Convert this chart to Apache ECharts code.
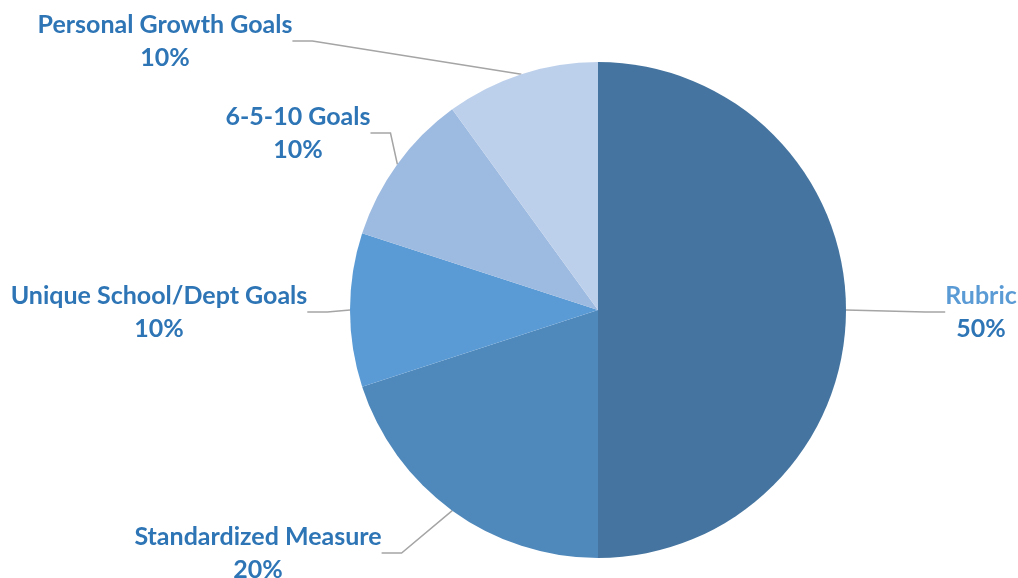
<!DOCTYPE html>
<html><head><meta charset="utf-8">
<script src="https://cdn.jsdelivr.net/npm/echarts@6/dist/echarts.min.js"></script>
<style>html,body{margin:0;padding:0;background:#fff}#c{width:1018px;height:578px}</style>
</head><body><div id="c"></div>
<script>
const categories = ['Rubric', 'Standardized Measure', 'Unique School/Dept Goals', '6-5-10 Goals', 'Personal Growth Goals'];
const values = [50, 20, 10, 10, 10];
const colors = ['#44749F', '#4F88BB', '#5B9BD5', '#9DBAE0', '#BDD0EB'];
const labelPos = [[981, 312], [258, 553], [159, 312], [298, 133], [165, 41]];

const chart = echarts.init(document.getElementById('c'));
chart.setOption({
  animation: false,
  series: [{
    type: 'pie',
    center: [598, 310],
    radius: 248,
    startAngle: 90,
    clockwise: true,
    data: categories.map((n, i) => ({
      name: n, value: values[i],
      itemStyle: { color: colors[i] },
      label: { rich: { n: { color: i === 0 ? '#5B9BD5' : '#2E75B6' } } }
    })),
    itemStyle: { borderColor: '#fff', borderWidth: 0 },
    label: {
      show: true,
      overflow: 'none',
      edgeDistance: 0,
      formatter: p => '{n|' + p.name + '}\n{v|' + p.percent + '%}',
      rich: {
        n: { fontFamily: 'Lato', fontWeight: 'bold', fontSize: 25, color: '#2E75B6', lineHeight: 33, align: 'center' },
        v: { fontFamily: 'Lato', fontWeight: 'bold', fontSize: 25, color: '#2E75B6', lineHeight: 33, align: 'center' }
      }
    },
    labelLine: { show: true, lineStyle: { color: '#A5A5A5', width: 1.5 }, length: 20, length2: 20 },
    labelLayout: function (p) {
      const pos = labelPos[p.dataIndex];
      return { x: pos[0], y: pos[1], align: 'center', verticalAlign: 'middle' };
    }
  }]
});
</script></body></html>
